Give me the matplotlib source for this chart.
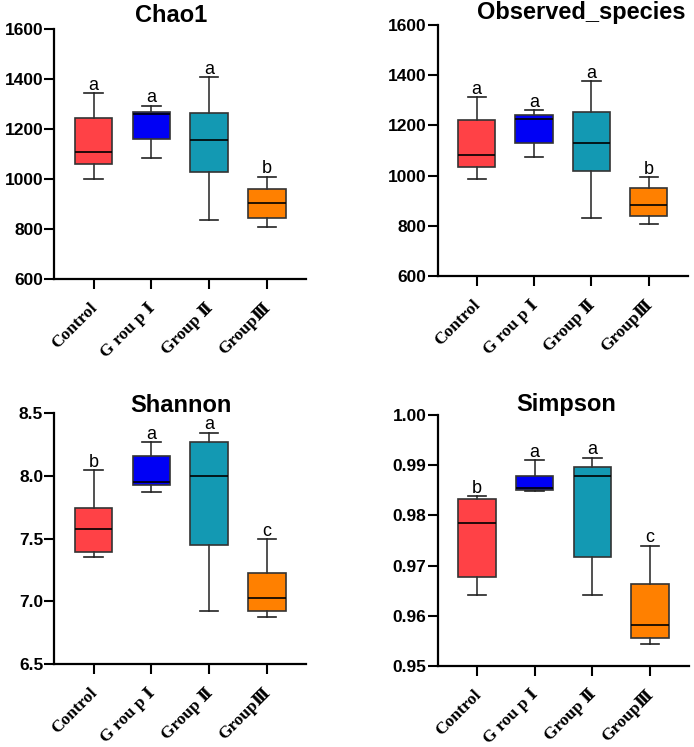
import matplotlib
matplotlib.use("Agg")
import matplotlib.pyplot as plt
from matplotlib.ticker import FormatStrFormatter
from matplotlib.transforms import ScaledTranslation

# ---- data ----
categories = ["Control", "G rou p Ⅰ", "Group Ⅱ", "GroupⅢ"]
box_colors = ["#FF4146", "#0000F5", "#1399B3", "#FF8000"]

chao1_lo = [1001, 1084, 837, 811]
chao1_q1 = [1060, 1163, 1028, 844]
chao1_med = [1108, 1260, 1156, 905]
chao1_q3 = [1245, 1269, 1267, 963]
chao1_hi = [1344, 1295, 1409, 1011]
chao1_letters = ["a", "a", "a", "b"]

obs_lo = [985, 1075, 831, 806]
obs_q1 = [1033, 1129, 1020, 838]
obs_med = [1082, 1225, 1129, 884]
obs_q3 = [1223, 1243, 1252, 952]
obs_hi = [1312, 1260, 1376, 993]
obs_letters = ["a", "a", "a", "b"]

shannon_lo = [7.356, 7.872, 6.926, 6.872]
shannon_q1 = [7.391, 7.926, 7.452, 6.920]
shannon_med = [7.577, 7.949, 8.003, 7.027]
shannon_q3 = [7.742, 8.157, 8.274, 7.223]
shannon_hi = [8.045, 8.271, 8.346, 7.495]
shannon_letters = ["b", "a", "a", "c"]

simpson_lo = [0.9641, 0.9848, 0.9642, 0.9543]
simpson_q1 = [0.9678, 0.9851, 0.9717, 0.9555]
simpson_med = [0.9784, 0.9854, 0.9878, 0.9581]
simpson_q3 = [0.9832, 0.9878, 0.9897, 0.9664]
simpson_hi = [0.9838, 0.9910, 0.9915, 0.9740]
simpson_letters = ["b", "a", "a", "c"]

W, H = 694, 747
fig = plt.figure(figsize=(W / 100, H / 100), dpi=100)

SANS = ["Liberation Sans", "DejaVu Sans"]
SERIF = ["Liberation Serif", "DejaVu Serif", "Noto Sans CJK SC"]


def px_axes(left, top, right, bottom):
    return fig.add_axes([left / W, 1 - bottom / H, (right - left) / W, (bottom - top) / H])


def draw_panel(ax, lo, q1, med, q3, hi, letters, ylim, yticks, fmt):
    stats = []
    for i in range(len(categories)):
        stats.append(dict(whislo=lo[i], q1=q1[i], med=med[i], q3=q3[i],
                          whishi=hi[i], fliers=[]))
    bp = ax.bxp(stats, positions=range(len(categories)), widths=0.65,
                patch_artist=True, showfliers=False,
                boxprops=dict(edgecolor="#333333", linewidth=1.2),
                whiskerprops=dict(color="#333333", linewidth=1.2),
                capprops=dict(color="#222222", linewidth=1.2),
                medianprops=dict(color="black", linewidth=1.2),
                capwidths=0.32)
    for patch, c in zip(bp["boxes"], box_colors):
        patch.set_facecolor(c)

    for i, t in enumerate(letters):
        ax.annotate(t, xy=(i, hi[i]), xytext=(0, 2.5), textcoords="offset points",
                    ha="center", va="baseline", fontsize=13, family=SANS)

    ax.set_xlim(-0.68, 3.68)
    ax.set_ylim(*ylim)
    ax.set_yticks(yticks)
    ax.yaxis.set_major_formatter(FormatStrFormatter(fmt))
    ax.set_xticks(range(len(categories)))
    ax.set_xticklabels(categories, rotation=45, ha="right", va="top",
                       rotation_mode="anchor", family=SERIF,
                       fontweight="bold", fontsize=12.5)
    for lab in ax.get_yticklabels():
        lab.set_family(SANS)
        lab.set_fontweight("bold")
        lab.set_fontsize(12.5)
    ax.tick_params(axis="y", length=7, width=1.5, pad=1, color="black")
    ax.tick_params(axis="x", length=7, width=1.5, pad=8, color="black")
    # nudge rotated labels a little to the left
    shift = ScaledTranslation(-4 / 100, 0, fig.dpi_scale_trans)
    for lab in ax.get_xticklabels():
        lab.set_transform(lab.get_transform() + shift)
    for s in ("top", "right"):
        ax.spines[s].set_visible(False)
    for s in ("left", "bottom"):
        ax.spines[s].set_linewidth(1.6)
    ax.patch.set_alpha(0)


ax1 = px_axes(54.3, 29.3, 306, 279.3)
draw_panel(ax1, chao1_lo, chao1_q1, chao1_med, chao1_q3, chao1_hi, chao1_letters,
           (600, 1600), range(600, 1601, 200), "%d")
ax2 = px_axes(437.7, 25, 687.7, 276)
draw_panel(ax2, obs_lo, obs_q1, obs_med, obs_q3, obs_hi, obs_letters,
           (600, 1600), range(600, 1601, 200), "%d")
ax3 = px_axes(54.3, 413.3, 306, 664)
draw_panel(ax3, shannon_lo, shannon_q1, shannon_med, shannon_q3, shannon_hi,
           shannon_letters, (6.5, 8.5), [6.5, 7.0, 7.5, 8.0, 8.5], "%.1f")
ax4 = px_axes(437.7, 415.3, 689.3, 665.7)
draw_panel(ax4, simpson_lo, simpson_q1, simpson_med, simpson_q3, simpson_hi,
           simpson_letters, (0.95, 1.00), [0.95, 0.96, 0.97, 0.98, 0.99, 1.00], "%.2f")

# titles (pixel positions of baselines)
for txt, x, y in [("Chao1", 170.7, 21.7), ("Observed_species", 581, 19.5),
                  ("Shannon", 181, 411.5), ("Simpson", 566.5, 411.5)]:
    fig.text(x / W, 1 - y / H, txt, ha="center", va="baseline",
             fontsize=17, fontweight="bold", family=SANS)

fig.savefig("out.png", dpi=100)
